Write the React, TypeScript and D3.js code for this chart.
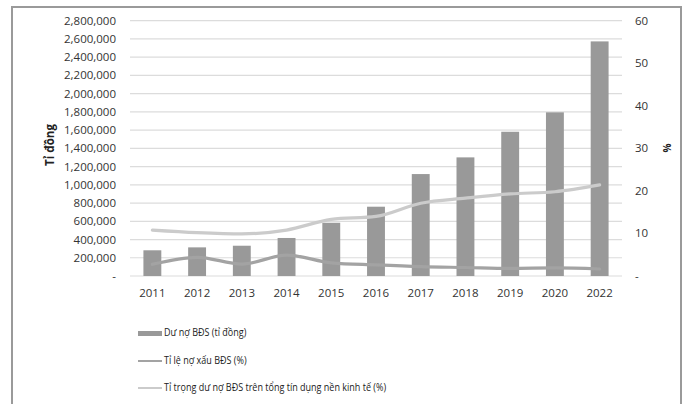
import React from "react";
import * as d3 from "d3";

const years = ["2011", "2012", "2013", "2014", "2015", "2016", "2017", "2018", "2019", "2020", "2022"];
const loans = [282000, 314000, 332000, 417000, 584000, 760000, 1118000, 1301000, 1582000, 1795000, 2573000];
const nplRate = [2.75, 4.4, 2.8, 4.9, 3.1, 2.6, 2.2, 2.0, 1.8, 1.9, 1.65];
const loanShare = [10.8, 10.2, 9.9, 10.8, 13.3, 14.0, 17.1, 18.3, 19.3, 19.8, 21.4];
const leftTicks = d3.range(0, 2800001, 200000);
const rightTicks = [0, 10, 20, 30, 40, 50, 60];
const legendItems = ["Dư nợ BĐS (tỉ đồng)", "Tỉ lệ nợ xấu BĐS (%)", "Tỉ trọng dư nợ BĐS trên tổng tín dụng nền kinh tế (%)"];

const W = 693;
const H = 404;
const plot = { left: 130, right: 622, top: 20.7, bottom: 276 };

export default function App() {
  const x = d3.scaleBand<string>().domain(years).range([plot.left, plot.right]).paddingInner(0.6).paddingOuter(0.3);
  const yL = d3.scaleLinear().domain([0, 2800000]).range([plot.bottom, plot.top]);
  const yR = d3.scaleLinear().domain([0, 60]).range([plot.bottom, plot.top]);
  const fmt = d3.format(",");
  const cx = (d: string) => (x(d) as number) + x.bandwidth() / 2;

  const line = d3.line<number>()
    .x((_, i) => cx(years[i]))
    .y((d) => yR(d))
    .curve(d3.curveMonotoneX);

  const tickFont = { fontFamily: "'Open Sans', sans-serif", fontSize: 11.5, fill: "#333" };
  const legendFont = { fontFamily: "'Open Sans', sans-serif", fontSize: 11, fill: "#222" };

  return (
    <svg width={W} height={H} style={{ position: "absolute", left: 0, top: 0, background: "#fff" }}>
      <rect x={12} y={7} width={669} height={H} fill="#fff" stroke="#9a9a9a" strokeWidth={2} />

      {leftTicks.map((t) => (
        <line key={"g" + t} x1={plot.left} x2={plot.right} y1={yL(t)} y2={yL(t)} stroke="#dcdcdc" strokeWidth={1.2} />
      ))}

      {leftTicks.map((t) => (
        <text key={"l" + t} x={116} y={yL(t)} dy="0.35em" textAnchor="end" {...tickFont}>
          {t === 0 ? "-" : fmt(t)}
        </text>
      ))}
      {rightTicks.map((t) => (
        <text key={"r" + t} x={635} y={yR(t)} dy="0.35em" textAnchor="start" {...tickFont}>
          {t === 0 ? "-" : t}
        </text>
      ))}

      <text transform="translate(54,145) rotate(-90)" textAnchor="middle"
        style={{ fontFamily: "'Open Sans', sans-serif", fontSize: 11.5, fontWeight: 700, fill: "#222" }}>
        Tỉ đồng
      </text>
      <text transform="translate(663,148) rotate(90)" textAnchor="middle"
        style={{ fontFamily: "'Open Sans', sans-serif", fontSize: 10, fontWeight: 700, fill: "#222" }}>
        %
      </text>

      {years.map((yr, i) => (
        <rect key={"b" + yr} x={x(yr)} y={yL(loans[i])} width={x.bandwidth()} height={plot.bottom - yL(loans[i])} fill="#999999" />
      ))}

      <path d={line(loanShare) || ""} fill="none" stroke="#cbcbcb" strokeWidth={3.2} strokeLinecap="round" />
      <path d={line(nplRate) || ""} fill="none" stroke="#a3a3a3" strokeWidth={3.2} strokeLinecap="round" />

      {years.map((yr) => (
        <text key={"x" + yr} x={cx(yr)} y={293} dy="0.35em" textAnchor="middle" {...tickFont}>
          {yr}
        </text>
      ))}

      <g>
        <rect x={138} y={331} width={24} height={5} fill="#999999" />
        <line x1={138} x2={162} y1={361} y2={361} stroke="#a3a3a3" strokeWidth={2} />
        <line x1={138} x2={162} y1={388} y2={388} stroke="#cbcbcb" strokeWidth={2} />
        {legendItems.map((label, i) => (
          <text key={label} transform={`translate(164,${[332, 360, 387][i]}) scale(0.82,1)`} dy="0.35em" {...legendFont}>
            {label}
          </text>
        ))}
      </g>
    </svg>
  );
}
